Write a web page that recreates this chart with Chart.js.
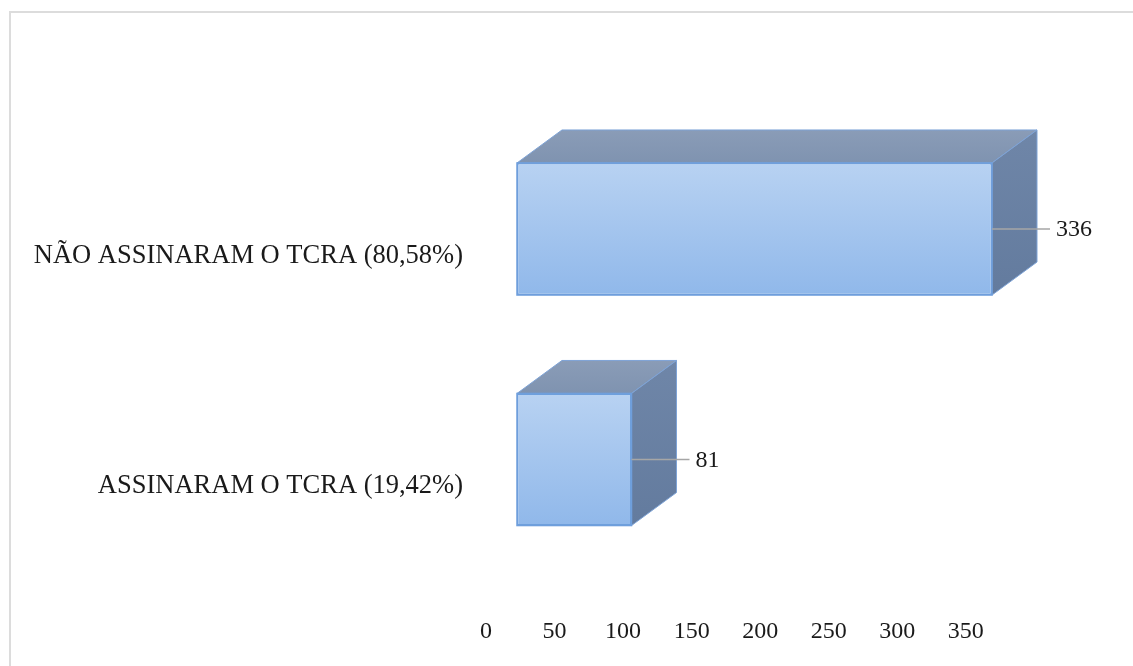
<!DOCTYPE html>
<html>
<head>
<meta charset="utf-8">
<script src="https://cdn.jsdelivr.net/npm/chart.js@4/dist/chart.umd.min.js"></script>
<style>
  html, body { margin: 0; padding: 0; background: #ffffff; }
  #wrap { position: relative; width: 1133px; height: 666px; }
  canvas { display: block; }
</style>
</head>
<body>
<div id="wrap"><canvas id="c" width="1133" height="666"></canvas></div>
<script>
// ---- data ----
const categories = ['NÃO ASSINARAM O TCRA (80,58%)', 'ASSINARAM O TCRA (19,42%)'];
const values = [336, 81];
const tickValues = [0, 50, 100, 150, 200, 250, 300, 350];

// ---- styling ----
const FONT = "'Liberation Serif', 'Times New Roman', serif";
const DEPTH_X = 45, DEPTH_Y = 33;

const threeD = {
  id: 'threeD',
  beforeDraw(chart) {
    const ctx = chart.ctx;
    ctx.save();
    ctx.fillStyle = '#ffffff';
    ctx.fillRect(0, 0, chart.width, chart.height);
    ctx.strokeStyle = '#dcdcdc';
    ctx.lineWidth = 2;
    ctx.beginPath();
    ctx.moveTo(10, chart.height);
    ctx.lineTo(10, 12);
    ctx.lineTo(chart.width, 12);
    ctx.stroke();
    ctx.restore();
  },
  afterDatasetsDraw(chart) {
    const ctx = chart.ctx;
    const meta = chart.getDatasetMeta(0);
    meta.data.forEach((bar, i) => {
      const p = bar.getProps(['x', 'y', 'base', 'height'], true);
      const L = p.base, R = p.x, T = p.y - p.height / 2, B = p.y + p.height / 2;
      ctx.save();
      // top face
      ctx.beginPath();
      ctx.moveTo(L, T);
      ctx.lineTo(L + DEPTH_X, T - DEPTH_Y);
      ctx.lineTo(R + DEPTH_X, T - DEPTH_Y);
      ctx.lineTo(R, T);
      ctx.closePath();
      const gt = ctx.createLinearGradient(0, T - DEPTH_Y, 0, T);
      gt.addColorStop(0, '#8a9cb7');
      gt.addColorStop(1, '#7f93b0');
      ctx.fillStyle = gt;
      ctx.fill();
      ctx.strokeStyle = '#7ea3d6';
      ctx.lineWidth = 1;
      ctx.stroke();
      // side face
      ctx.beginPath();
      ctx.moveTo(R, T);
      ctx.lineTo(R + DEPTH_X, T - DEPTH_Y);
      ctx.lineTo(R + DEPTH_X, B - DEPTH_Y);
      ctx.lineTo(R, B);
      ctx.closePath();
      const gs = ctx.createLinearGradient(0, T - DEPTH_Y, 0, B);
      gs.addColorStop(0, '#6f86a8');
      gs.addColorStop(1, '#637b9e');
      ctx.fillStyle = gs;
      ctx.fill();
      ctx.strokeStyle = '#7ea3d6';
      ctx.stroke();
      // front border redraw
      ctx.strokeStyle = '#6f9fdc';
      ctx.lineWidth = 1.5;
      ctx.strokeRect(L, T, R - L, B - T);
      // leader line + label
      ctx.strokeStyle = '#a6a6a6';
      ctx.lineWidth = 1.5;
      ctx.beginPath();
      ctx.moveTo(R, p.y);
      ctx.lineTo(R + 58, p.y);
      ctx.stroke();
      ctx.fillStyle = '#1a1a1a';
      ctx.font = '24px ' + FONT;
      ctx.textAlign = 'left';
      ctx.textBaseline = 'middle';
      ctx.fillText(String(values[i]), R + 64, p.y + 1);
      ctx.restore();
    });
  }
};

const chart = new Chart(document.getElementById('c'), {
  type: 'bar',
  data: {
    labels: categories,
    datasets: [{
      data: values,
      xAxisID: 'x',
      yAxisID: 'y',
      backgroundColor: (c) => {
        const ch = c.chart;
        const ys = ch.scales.y;
        if (!ys || !ch.chartArea) return '#a6c6ee';
        const cy = ys.getPixelForValue(c.dataIndex);
        const h = ys.height / categories.length * 0.573;
        const g = ch.ctx.createLinearGradient(0, cy - h / 2, 0, cy + h / 2);
        g.addColorStop(0, '#b8d2f2');
        g.addColorStop(1, '#90b8ea');
        return g;
      },
      borderColor: '#6f9fdc',
      borderWidth: 1.5,
      borderSkipped: false,
      categoryPercentage: 1,
      barPercentage: 0.573
    }]
  },
  options: {
    indexAxis: 'y',
    responsive: false,
    animation: false,
    devicePixelRatio: 1,
    layout: { padding: { top: 113.75, bottom: 21.25, left: 0, right: 100 } },
    plugins: { legend: { display: false }, tooltip: { enabled: false } },
    scales: {
      x: {
        display: false,
        min: -21.93,
        max: 365.0
      },
      xt: {
        type: 'linear',
        axis: 'x',
        position: 'bottom',
        min: 0,
        max: 399,
        grid: { display: false, drawTicks: false },
        border: { display: false },
        afterBuildTicks: (s) => { s.ticks = tickValues.map(v => ({ value: v })); },
        afterFit: (s) => { s.height = 70; },
        ticks: {
          padding: 43,
          color: '#1a1a1a',
          font: { family: FONT, size: 24 },
          maxRotation: 0,
          autoSkip: false
        }
      },
      y: {
        position: 'left',
        grid: { display: false, drawTicks: false },
        border: { display: false },
        afterFit: (s) => { s.width = 486; },
        ticks: {
          padding: 23,
          labelOffset: 27,
          color: '#1a1a1a',
          font: { family: FONT, size: 26.5 }
        }
      }
    }
  },
  plugins: [threeD]
});
</script>
</body>
</html>
